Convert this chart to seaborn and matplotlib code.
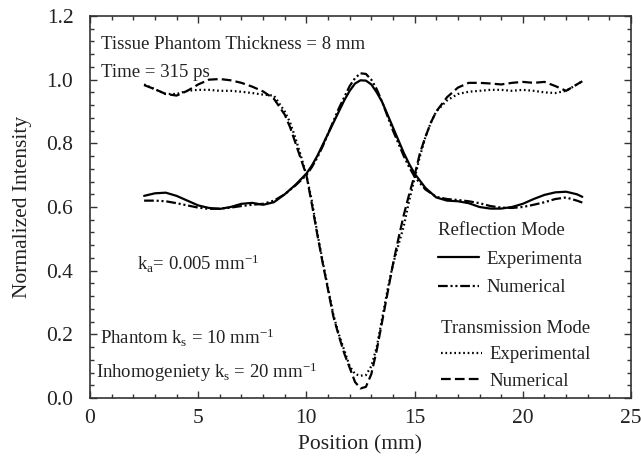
import matplotlib
matplotlib.use("Agg")
import matplotlib.pyplot as plt
from matplotlib.lines import Line2D
from matplotlib.ticker import MultipleLocator, FormatStrFormatter
import seaborn as sns
import pandas as pd

# ---------------- data ----------------
refl_x = [2.5, 3.0, 3.5, 4.0, 4.5, 5.0, 5.5, 6.0, 6.5, 7.0, 7.5, 8.0, 8.5, 9.0, 9.5,
          10.0, 10.25, 10.5, 10.75, 11.0, 11.25, 11.5, 11.75, 12.0, 12.25, 12.5, 12.75,
          13.0, 13.25, 13.5, 13.75, 14.0, 14.25, 14.5, 14.75, 15.0, 15.5, 16.0, 16.5,
          17.0, 17.5, 18.0, 18.5, 19.0, 19.5, 20.0, 20.5, 21.0, 21.5, 22.0, 22.5, 22.75]
refl_exp = [0.635, 0.643, 0.645, 0.635, 0.620, 0.605, 0.597, 0.594, 0.600, 0.610, 0.613,
            0.607, 0.615, 0.640, 0.670, 0.705, 0.730, 0.760, 0.795, 0.830, 0.865, 0.900,
            0.935, 0.965, 0.988, 0.998, 0.997, 0.985, 0.960, 0.930, 0.890, 0.850, 0.810,
            0.770, 0.735, 0.705, 0.660, 0.630, 0.620, 0.618, 0.612, 0.600, 0.595, 0.595,
            0.600, 0.610, 0.625, 0.638, 0.646, 0.648, 0.640, 0.632]
refl_num = [0.620, 0.620, 0.618, 0.612, 0.605, 0.598, 0.594, 0.595, 0.598, 0.603, 0.607,
            0.610, 0.620, 0.640, 0.668, 0.700, 0.725, 0.755, 0.790, 0.830, 0.870, 0.910,
            0.945, 0.980, 1.005, 1.020, 1.018, 1.000, 0.970, 0.930, 0.885, 0.840, 0.800,
            0.760, 0.725, 0.695, 0.655, 0.632, 0.625, 0.622, 0.618, 0.612, 0.603, 0.598,
            0.597, 0.600, 0.607, 0.615, 0.625, 0.630, 0.620, 0.614]

trans_x = [2.5, 3.0, 3.5, 4.0, 4.5, 5.0, 5.5, 6.0, 6.5, 7.0, 7.5, 8.0, 8.5, 9.0, 9.25,
           9.5, 9.75, 10.0, 10.25, 10.5, 10.75, 11.0, 11.25, 11.5, 11.75, 12.0, 12.25,
           12.5, 12.75, 13.0, 13.25, 13.5, 13.75, 14.0, 14.25, 14.5, 14.75, 15.0, 15.25,
           15.5, 15.75, 16.0, 16.5, 17.0, 17.5, 18.0, 18.5, 19.0, 19.5, 20.0, 20.5, 21.0,
           21.5, 22.0, 22.5, 22.75]
trans_exp = [0.985, 0.970, 0.955, 0.955, 0.965, 0.968, 0.968, 0.965, 0.965, 0.962, 0.958,
             0.953, 0.950, 0.900, 0.865, 0.815, 0.760, 0.700, 0.620, 0.520, 0.430, 0.345,
             0.260, 0.200, 0.150, 0.100, 0.075, 0.070, 0.072, 0.100, 0.160, 0.250, 0.340,
             0.420, 0.480, 0.540, 0.620, 0.690, 0.760, 0.820, 0.865, 0.900, 0.935, 0.955,
             0.962, 0.965, 0.968, 0.968, 0.965, 0.968, 0.965, 0.960, 0.958, 0.965, 0.985,
             0.995]
trans_num = [0.983, 0.970, 0.955, 0.950, 0.965, 0.985, 1.000, 1.002, 0.998, 0.990, 0.978,
             0.963, 0.940, 0.890, 0.850, 0.800, 0.750, 0.700, 0.610, 0.515, 0.425, 0.340,
             0.255, 0.195, 0.140, 0.095, 0.050, 0.030, 0.035, 0.075, 0.150, 0.240, 0.330,
             0.420, 0.500, 0.575, 0.640, 0.700, 0.770, 0.820, 0.865, 0.900, 0.945, 0.975,
             0.990, 0.990, 0.988, 0.985, 0.990, 0.993, 0.990, 0.993, 0.980, 0.965, 0.985,
             0.995]

x_ticks = [0, 5, 10, 15, 20, 25]
y_ticks = [0.0, 0.2, 0.4, 0.6, 0.8, 1.0, 1.2]

# ---------------- style ----------------
sns.set_theme(style="ticks")
plt.rcParams["font.family"] = ["Liberation Serif", "DejaVu Serif"]
plt.rcParams["mathtext.fontset"] = "custom"
plt.rcParams["mathtext.rm"] = "Liberation Serif"
plt.rcParams["mathtext.it"] = "Liberation Serif:italic"
plt.rcParams["lines.scale_dashes"] = False
FS = 13.5
FS_AX = 15.5
TXT = "#222222"

fig = plt.figure(figsize=(6.41, 4.61), dpi=100)
ax = fig.add_axes([90 / 641, 1 - 398 / 461, 541 / 641, 382 / 461])

LW = 1.6
styles = {
    "refl_exp": "-",
    "refl_num": (0, (7, 2, 1.5, 2, 1.5, 2)),
    "trans_exp": (0, (1.2, 2.0)),
    "trans_num": (0, (7, 3)),
}

sns.lineplot(x=refl_x, y=refl_exp, ax=ax, color="black", lw=LW, linestyle=styles["refl_exp"], errorbar=None, legend=False)
sns.lineplot(x=refl_x, y=refl_num, ax=ax, color="black", lw=LW, linestyle=styles["refl_num"], errorbar=None, legend=False)
sns.lineplot(x=trans_x, y=trans_exp, ax=ax, color="black", lw=LW, linestyle=styles["trans_exp"], errorbar=None, legend=False)
sns.lineplot(x=trans_x, y=trans_num, ax=ax, color="black", lw=LW, linestyle=styles["trans_num"], errorbar=None, legend=False)

ax.set_xlim(0, 25)
ax.set_ylim(0, 1.2)
ax.set_xticks(x_ticks)
ax.set_yticks(y_ticks)
ax.xaxis.set_minor_locator(MultipleLocator(1))
ax.yaxis.set_minor_locator(MultipleLocator(0.04))
ax.yaxis.set_major_formatter(FormatStrFormatter("%.1f"))
ax.tick_params(which="both", direction="in", top=True, right=True, color="#333333", width=1.0)
ax.tick_params(which="major", length=5, labelsize=FS_AX, labelcolor=TXT)
ax.tick_params(axis="y", which="major", pad=12)
ax.tick_params(axis="x", which="major", pad=8)
ax.tick_params(which="minor", length=3)
for s in ax.spines.values():
    s.set_visible(True)
    s.set_linewidth(1.2)
    s.set_color("#333333")

ax.set_xlabel("Position (mm)", fontsize=FS_AX, color=TXT, labelpad=5)
ax.set_ylabel("Normalized Intensity", fontsize=FS_AX, color=TXT, labelpad=10)

# annotations
ax.text(0.020, 0.913, "Tissue Phantom Thickness = 8 mm", transform=ax.transAxes, fontsize=FS, color=TXT, va="baseline")
ax.text(0.020, 0.840, "Time = 315 ps", transform=ax.transAxes, fontsize=FS, color=TXT, va="baseline")
ax.text(0.087, 0.335, r"k$_\mathrm{a}$= 0.005 mm$^\mathrm{-1}$", transform=ax.transAxes, fontsize=FS, color=TXT, va="baseline")
ax.text(0.018, 0.140, r"Phantom k$_\mathrm{s}$ = 10 mm$^\mathrm{-1}$", transform=ax.transAxes, fontsize=FS, color=TXT, va="baseline")
ax.text(0.012, 0.052, r"Inhomogeniety k$_\mathrm{s}$ = 20 mm$^\mathrm{-1}$", transform=ax.transAxes, fontsize=FS, color=TXT, va="baseline")

# legends
h1 = [Line2D([], [], color="black", lw=LW, linestyle=styles["refl_exp"]),
      Line2D([], [], color="black", lw=LW, linestyle=styles["refl_num"])]
h2 = [Line2D([], [], color="black", lw=LW, linestyle=styles["trans_exp"]),
      Line2D([], [], color="black", lw=LW, linestyle=styles["trans_num"])]
leg1 = ax.legend(h1, ["Experimenta", "Numerical"], title="Reflection Mode", loc="upper left",
                 bbox_to_anchor=(0.626, 0.484), frameon=False, fontsize=FS, title_fontsize=FS,
                 alignment="left", borderpad=0, handlelength=2.2, handletextpad=0.4,
                 labelspacing=0.6, labelcolor=TXT)
leg1.get_title().set_color(TXT)
ax.add_artist(leg1)
leg2 = ax.legend(h2, ["Experimental", "Numerical"], title="Transmission Mode", loc="upper left",
                 bbox_to_anchor=(0.631, 0.229), frameon=False, fontsize=FS, title_fontsize=FS,
                 alignment="left", borderpad=0, handlelength=2.2, handletextpad=0.4,
                 labelspacing=0.5, labelcolor=TXT)
leg2.get_title().set_color(TXT)

fig.savefig("out.png", dpi=100)
